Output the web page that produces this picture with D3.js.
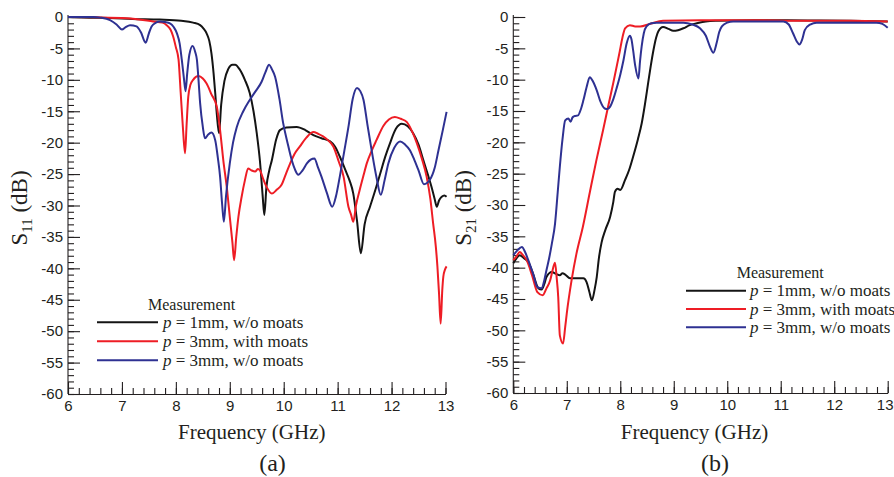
<!DOCTYPE html>
<html>
<head>
<meta charset="utf-8">
<script src="https://cdn.jsdelivr.net/npm/d3@7/dist/d3.min.js"></script>
<style>
  html, body { margin: 0; padding: 0; background: #fff; }
  svg { display: block; }
</style>
</head>
<body>
<svg id="chart" width="894" height="477"></svg>
<script>
// ---------- data (frequency GHz, dB) ----------
const legendLabels = ["= 1mm, w/o moats", "= 3mm, with moats", "= 3mm, w/o moats"];
const xTicks = [6, 7, 8, 9, 10, 11, 12, 13];
const yTicks = [0, -5, -10, -15, -20, -25, -30, -35, -40, -45, -50, -55, -60];

// (a) S11
const s11_p1_noMoats = [[6.0,0],[6.4,-0.1],[6.78,-0.15],[7.2,-0.3],[7.7,-0.4],[8.1,-0.6],[8.32,-0.9],[8.45,-1.3],[8.51,-1.8],[8.57,-2.6],[8.62,-3.8],[8.66,-5.8],[8.70,-9],[8.73,-12.1],[8.76,-15.5],[8.80,-18.5],[8.84,-14],[8.90,-10.2],[8.97,-8.3],[9.05,-7.6],[9.10,-7.6],[9.18,-8.3],[9.28,-10],[9.37,-12.1],[9.44,-15],[9.50,-18.5],[9.56,-23],[9.61,-28.5],[9.64,-31.5],[9.68,-27],[9.73,-24.5],[9.78,-22.8],[9.86,-19.5],[9.93,-18.0],[10.05,-17.6],[10.24,-17.5],[10.4,-18.0],[10.55,-18.8],[10.7,-19.3],[10.86,-19.8],[10.95,-20.6],[11.04,-22.2],[11.15,-24.5],[11.22,-26],[11.29,-28.1],[11.36,-32.5],[11.43,-37.6],[11.50,-33],[11.60,-30.2],[11.7,-27.5],[11.79,-24.9],[11.88,-22.3],[11.97,-20.1],[12.08,-17.8],[12.19,-17.0],[12.30,-17.4],[12.40,-18.5],[12.50,-20.3],[12.59,-22.8],[12.67,-25],[12.74,-27],[12.80,-29],[12.84,-30.2],[12.88,-29.2],[12.93,-28.6],[12.98,-28.4],[13.02,-28.6]];
const s11_p3_withMoats = [[6.0,0],[6.5,-0.05],[7.09,-0.2],[7.58,-0.7],[7.75,-0.9],[7.83,-1.3],[7.90,-2.0],[7.95,-3.1],[8.0,-4.8],[8.05,-6.8],[8.09,-12.1],[8.13,-17.5],[8.17,-21.7],[8.20,-17],[8.23,-12.7],[8.27,-10.8],[8.32,-10.0],[8.42,-9.4],[8.50,-9.8],[8.57,-10.6],[8.66,-12.3],[8.76,-14.3],[8.82,-18],[8.88,-22.8],[8.95,-27.5],[9.0,-31.8],[9.05,-36],[9.08,-38.7],[9.12,-35],[9.16,-31.8],[9.22,-28.6],[9.28,-26],[9.34,-24.1],[9.40,-24.4],[9.47,-24.6],[9.52,-24.2],[9.56,-24.4],[9.62,-25.8],[9.68,-27.0],[9.78,-28.1],[9.87,-27.5],[9.96,-26.7],[10.04,-25],[10.12,-23.3],[10.2,-21.8],[10.30,-20.6],[10.42,-19.2],[10.55,-18.3],[10.64,-18.6],[10.73,-19.0],[10.82,-19.6],[10.92,-20.6],[11.02,-23],[11.11,-25.4],[11.2,-30.2],[11.25,-31.5],[11.29,-32.6],[11.34,-30],[11.41,-27.5],[11.48,-25.2],[11.54,-23.3],[11.63,-21.3],[11.72,-19.6],[11.85,-17.3],[11.95,-16.3],[12.06,-15.9],[12.17,-16.2],[12.28,-16.7],[12.38,-18.2],[12.47,-20.1],[12.56,-22.5],[12.65,-25.4],[12.72,-29],[12.77,-32.8],[12.82,-36.5],[12.85,-39.7],[12.88,-44],[12.91,-48.8],[12.94,-43.5],[12.96,-41.3],[12.99,-40.2],[13.02,-39.7]];
const s11_p3_noMoats = [[6.0,0],[6.47,0],[6.6,-0.1],[6.78,-0.5],[6.9,-1.2],[7.0,-2.0],[7.07,-1.6],[7.15,-1.3],[7.27,-1.5],[7.35,-2.4],[7.44,-4.1],[7.50,-2.6],[7.55,-1.5],[7.63,-0.9],[7.71,-0.7],[7.80,-0.8],[7.89,-1.0],[7.96,-1.6],[8.02,-2.6],[8.07,-4.2],[8.11,-6.8],[8.15,-9.8],[8.18,-11.8],[8.21,-9],[8.25,-6],[8.31,-4.6],[8.36,-5.6],[8.39,-6.8],[8.42,-10],[8.45,-13.7],[8.50,-17.5],[8.54,-19.3],[8.6,-18.7],[8.66,-18.4],[8.73,-19.6],[8.78,-22.5],[8.82,-25.4],[8.86,-30],[8.89,-32.6],[8.93,-28.5],[9.0,-23.3],[9.06,-20],[9.13,-17.5],[9.25,-15],[9.37,-13.2],[9.48,-11.8],[9.59,-10.3],[9.66,-8.8],[9.73,-7.6],[9.78,-8.3],[9.84,-9.5],[9.92,-13],[9.99,-16.9],[10.07,-20],[10.15,-22.8],[10.21,-24.3],[10.27,-25.1],[10.35,-24.4],[10.43,-23.3],[10.5,-22.7],[10.57,-22.5],[10.63,-23.8],[10.70,-25.4],[10.8,-28],[10.90,-30.2],[10.97,-28.5],[11.04,-25.4],[11.12,-21.5],[11.20,-17.5],[11.28,-13],[11.36,-11.3],[11.42,-11.8],[11.48,-13.2],[11.55,-17],[11.63,-21.2],[11.72,-25.5],[11.80,-28.3],[11.87,-26],[11.94,-23.3],[12.05,-20.8],[12.16,-19.8],[12.25,-20.3],[12.34,-21.2],[12.42,-22.7],[12.50,-24.4],[12.60,-26.6],[12.71,-25.9],[12.8,-24],[12.87,-21.2],[12.95,-18],[13.02,-15.1]];

// (b) S21
const s21_p1_noMoats = [[6.0,-39.3],[6.06,-38.5],[6.12,-38.0],[6.2,-38.5],[6.28,-39.1],[6.37,-41],[6.47,-43.3],[6.53,-43.5],[6.58,-42.6],[6.62,-41.5],[6.72,-40.7],[6.80,-41.0],[6.87,-41.2],[6.92,-40.9],[6.97,-41.1],[7.06,-41.7],[7.2,-41.7],[7.31,-41.7],[7.37,-42.3],[7.42,-43.8],[7.47,-45.2],[7.52,-43.5],[7.56,-41.5],[7.60,-38.5],[7.65,-36.0],[7.72,-34.0],[7.81,-31.9],[7.87,-29.5],[7.90,-27.9],[7.95,-27.4],[8.0,-27.6],[8.09,-26.0],[8.17,-24.3],[8.24,-22.3],[8.33,-19.5],[8.40,-17.0],[8.46,-14],[8.52,-10.6],[8.57,-7.8],[8.62,-5.3],[8.67,-3.3],[8.71,-2.3],[8.80,-1.6],[8.9,-1.9],[8.99,-2.2],[9.08,-2.1],[9.18,-1.8],[9.30,-1.3],[9.43,-1.0],[9.6,-0.7],[9.80,-0.6],[10.5,-0.5],[11.5,-0.55],[12.3,-0.6],[13.0,-0.7]];
const s21_p3_withMoats = [[6.0,-38.8],[6.06,-38.2],[6.12,-37.5],[6.18,-38.0],[6.25,-38.8],[6.35,-41.2],[6.45,-43.9],[6.55,-44.4],[6.62,-43.3],[6.69,-42.0],[6.74,-40.2],[6.78,-39.2],[6.81,-41.5],[6.84,-44.7],[6.87,-50.8],[6.93,-52.1],[6.97,-49.5],[7.0,-47.3],[7.09,-42.0],[7.18,-37.8],[7.30,-33.5],[7.43,-28.0],[7.55,-23.0],[7.68,-18.0],[7.78,-14.0],[7.87,-10.5],[7.94,-7.6],[7.99,-5.5],[8.04,-3.3],[8.09,-1.8],[8.18,-1.3],[8.28,-1.5],[8.37,-1.5],[8.55,-1.1],[8.80,-0.6],[9.5,-0.5],[10.42,-0.5],[11.5,-0.6],[12.3,-0.6],[13.0,-0.7]];
const s21_p3_noMoats = [[6.0,-38.0],[6.08,-37.2],[6.16,-36.7],[6.22,-37.5],[6.28,-38.8],[6.37,-41],[6.45,-43.1],[6.53,-43.3],[6.58,-42],[6.62,-40.4],[6.67,-38.5],[6.72,-36.2],[6.78,-33.0],[6.83,-28],[6.87,-23.9],[6.92,-19.5],[6.97,-16.5],[7.03,-16.2],[7.07,-16.7],[7.11,-16.0],[7.15,-15.8],[7.21,-15.7],[7.26,-14.8],[7.31,-13.3],[7.37,-11.2],[7.43,-9.6],[7.49,-10.3],[7.56,-11.7],[7.63,-13.5],[7.71,-14.6],[7.76,-14.7],[7.81,-14.3],[7.87,-13.1],[7.93,-11.4],[8.0,-9.2],[8.06,-6.9],[8.12,-4.2],[8.18,-3.0],[8.21,-3.6],[8.24,-5.3],[8.28,-7.8],[8.34,-9.8],[8.37,-7],[8.40,-4.7],[8.44,-2.6],[8.49,-1.5],[8.58,-1.0],[8.68,-0.9],[9.0,-0.9],[9.18,-0.9],[9.35,-1.2],[9.49,-1.8],[9.6,-3.0],[9.68,-4.8],[9.74,-5.7],[9.8,-4.2],[9.85,-2.4],[9.90,-1.5],[10.0,-0.9],[10.11,-0.7],[11.05,-0.7],[11.15,-1.2],[11.23,-2.6],[11.30,-3.9],[11.35,-4.4],[11.40,-3.6],[11.45,-2.1],[11.55,-1.2],[11.67,-0.9],[12.5,-0.9],[12.79,-0.9],[12.9,-1.1],[13.0,-1.7]];

const colors = ["#141414", "#ee1d25", "#2e3192"];

// ---------- drawing ----------
const svg = d3.select("#chart");
const serif = "'Liberation Serif','Times New Roman',serif";
const sans = "'Liberation Sans',Arial,Helvetica,sans-serif";

function panel(cfg) {
  const x = d3.scaleLinear().domain([6, 13]).range(cfg.xr);
  const y = d3.scaleLinear().domain([-60, 0]).range(cfg.yr);
  const g = svg.append("g");

  // minor ticks
  g.append("g").attr("transform", `translate(0,${cfg.yr[0]})`)
    .call(d3.axisBottom(x).tickValues(d3.range(6, 13.001, 0.2)).tickSize(-6).tickFormat(""))
    .call(a => a.select(".domain").remove());
  g.append("g").attr("transform", `translate(${cfg.xr[0]},0)`)
    .call(d3.axisLeft(y).tickValues(d3.range(-60, 0.001, 1)).tickSize(-6).tickFormat(""))
    .call(a => a.select(".domain").remove());

  // major axes
  const xa = g.append("g").attr("transform", `translate(0,${cfg.yr[0]})`)
    .call(d3.axisBottom(x).tickValues(xTicks).tickSizeInner(-12).tickSizeOuter(0).tickPadding(6).tickFormat(d => String(d)));
  const ya = g.append("g").attr("transform", `translate(${cfg.xr[0]},0)`)
    .call(d3.axisLeft(y).tickValues(yTicks).tickSizeInner(-12).tickSizeOuter(0).tickPadding(5).tickFormat(d => String(d)));
  [xa, ya].forEach(a => {
    a.selectAll("text").attr("font-family", sans).attr("font-size", 15).attr("fill", "#231f20");
  });
  g.selectAll(".domain, .tick line").attr("stroke", "#231f20").attr("stroke-width", 1.1);
  xa.selectAll("text").attr("dy", "0.72em");
  xa.selectAll(".tick").filter(d => d === 13).select("text").attr("dx", cfg.lastDx);
  ya.select(".domain").attr("d", `M0,${cfg.yr[0]}V${cfg.yr[1] - 2}`);

  // curves
  const line = d3.line().x(d => x(d[0])).y(d => y(d[1])).curve(d3.curveMonotoneX);
  cfg.series.forEach((s, i) => {
    g.append("path").datum(s).attr("d", line)
      .attr("fill", "none").attr("stroke", colors[i]).attr("stroke-width", 2)
      .attr("stroke-linejoin", "round");
  });

  // axis titles
  g.append("text").attr("x", (cfg.xr[0] + cfg.xr[1]) / 2 + cfg.xtOff).attr("y", 439)
    .attr("text-anchor", "middle").attr("font-family", serif).attr("font-size", 21).attr("fill", "#231f20")
    .text("Frequency (GHz)");
  const yt = g.append("text").attr("transform", `translate(${cfg.ytX},${cfg.ytY}) rotate(-90)`)
    .attr("text-anchor", "middle").attr("font-family", serif).attr("font-size", 23).attr("fill", "#231f20");
  yt.append("tspan").text("S");
  yt.append("tspan").attr("font-size", 15).attr("dy", 5).text(cfg.sub);
  yt.append("tspan").attr("dy", -5).text(" (dB)");

  g.append("text").attr("x", cfg.capX).attr("y", 471).attr("text-anchor", "middle")
    .attr("font-family", serif).attr("font-size", 24).attr("fill", "#231f20").text(cfg.cap);

  // legend
  const L = cfg.legend;
  g.append("text").attr("x", L.mx).attr("y", L.my).attr("font-family", serif).attr("font-size", 16)
    .attr("fill", "#231f20").text("Measurement");
  legendLabels.forEach((lab, i) => {
    const yy = L.y0 + i * L.dy;
    g.append("line").attr("x1", L.x1).attr("x2", L.x2).attr("y1", yy).attr("y2", yy)
      .attr("stroke", colors[i]).attr("stroke-width", 2);
    const t = g.append("text").attr("x", L.tx).attr("y", yy + 5.5).attr("font-family", serif)
      .attr("font-size", 17).attr("fill", "#231f20");
    t.append("tspan").attr("font-style", "italic").text("p");
    t.append("tspan").text(" " + lab);
  });
}

panel({
  xr: [68, 445.5], yr: [394, 17], series: [s11_p1_noMoats, s11_p3_withMoats, s11_p3_noMoats],
  sub: "11", ytX: 27, ytY: 208, cap: "(a)", capX: 272.5, xtOff: -5, lastDx: 0,
  legend: { mx: 148, my: 310, x1: 97, x2: 158, tx: 163, y0: 322.3, dy: 19 }
});
panel({
  xr: [513.3, 887.7], yr: [393, 17], series: [s21_p1_noMoats, s21_p3_withMoats, s21_p3_noMoats],
  sub: "21", ytX: 471, ytY: 208, cap: "(b)", capX: 715, xtOff: -6, lastDx: -3,
  legend: { mx: 736.7, my: 278, x1: 686, x2: 746, tx: 750, y0: 290.7, dy: 18.3 }
});
</script>
</body>
</html>
